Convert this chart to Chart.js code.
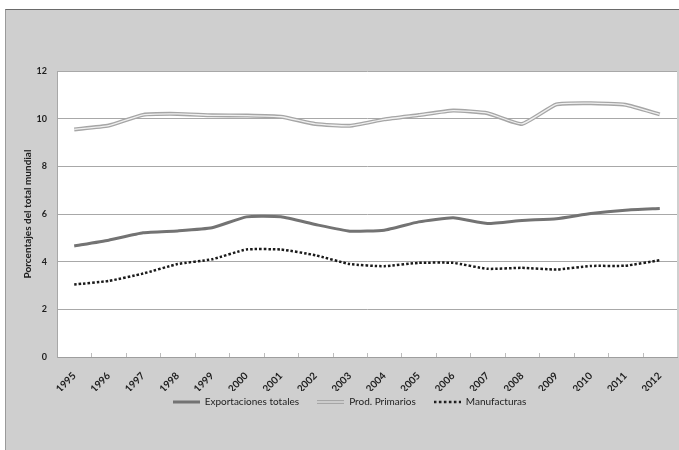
<!DOCTYPE html>
<html>
<head>
<meta charset="utf-8">
<script src="https://cdn.jsdelivr.net/npm/chart.js@4.4.1/dist/chart.umd.min.js"></script>
<style>
  html, body { margin: 0; padding: 0; background: #fff; }
  #frame {
    position: absolute; left: 5px; top: 9px; width: 674px; height: 441px;
    background: #cfcfcf; border-top: 1px solid #6a6a6a; border-left: 1px solid #9a9a9a;
    box-sizing: border-box;
  }
  canvas { display: block; }
</style>
</head>
<body>
<div id="frame"><canvas id="chart" width="673" height="440"></canvas></div>
<script>
const years = ["1995", "1996", "1997", "1998", "1999", "2000", "2001", "2002", "2003",
  "2004", "2005", "2006", "2007", "2008", "2009", "2010", "2011", "2012"];
const exportacionesTotales = [4.66, 4.9, 5.21, 5.29, 5.42, 5.88, 5.88, 5.56, 5.28,
  5.32, 5.67, 5.84, 5.6, 5.73, 5.8, 6.02, 6.16, 6.23];
const prodPrimarios = [9.55, 9.71, 10.16, 10.2, 10.14, 10.13, 10.08, 9.78, 9.7,
  9.97, 10.15, 10.34, 10.23, 9.78, 10.6, 10.65, 10.58, 10.18];
const manufacturas = [3.04, 3.19, 3.5, 3.9, 4.1, 4.51, 4.51, 4.27, 3.9,
  3.81, 3.95, 3.95, 3.7, 3.74, 3.67, 3.82, 3.83, 4.06];
const yMin = 0;
const yMax = 12;
const yStep = 2;
const yTitle = "Porcentajes del total mundial";

const FONT = "Lato, 'Open Sans', sans-serif";
const KEY_W = 27;

// little canvas used as the legend key (keeps dashes / double line)
function legendKey(color, width, dash, inner) {
  const c = document.createElement("canvas");
  c.width = KEY_W;
  c.height = 6;
  const g = c.getContext("2d");
  g.strokeStyle = color;
  g.lineWidth = width;
  g.setLineDash(dash || []);
  g.beginPath();
  g.moveTo(0, 3);
  g.lineTo(KEY_W, 3);
  g.stroke();
  if (inner) {
    g.strokeStyle = inner;
    g.lineWidth = 1.2;
    g.beginPath();
    g.moveTo(0, 3);
    g.lineTo(KEY_W, 3);
    g.stroke();
  }
  return c;
}

// white plot area, small inner ticks between categories, legend nudged up under the labels
const plotArea = {
  id: "plotArea",
  afterLayout(chart) {
    const lg = chart.legend;
    lg.top -= 12;
    lg.bottom -= 12;
    lg.left += 8;
    lg.right += 8;
  },
  beforeDraw(chart) {
    const { ctx, chartArea: a } = chart;
    ctx.save();
    ctx.fillStyle = "#ffffff";
    ctx.fillRect(a.left, a.top, a.right - a.left, a.bottom - a.top);
    ctx.restore();
  },
  afterDatasetsDraw(chart) {
    const { ctx, chartArea: a, scales } = chart;
    const x = scales.x;
    ctx.save();
    ctx.strokeStyle = "#bdbdbd";
    ctx.lineWidth = 1;
    for (let i = 1; i < years.length; i++) {
      const px = Math.round((x.getPixelForValue(i - 1) + x.getPixelForValue(i)) / 2) + 0.5;
      ctx.beginPath();
      ctx.moveTo(px, a.bottom - 4);
      ctx.lineTo(px, a.bottom);
      ctx.stroke();
    }
    ctx.restore();
  },
};

new Chart(document.getElementById("chart"), {
  type: "line",
  data: {
    labels: years,
    datasets: [
      {
        label: "Exportaciones totales",
        data: exportacionesTotales,
        borderColor: "#737373",
        borderWidth: 3,
        tension: 0.15,
        pointStyle: legendKey("#737373", 3),
      },
      {
        label: "inner",
        data: prodPrimarios,
        borderColor: "#f0f0f0",
        borderWidth: 1.3,
        tension: 0.15,
      },
      {
        label: "Prod. Primarios",
        data: prodPrimarios,
        borderColor: "#a6a6a6",
        borderWidth: 4,
        tension: 0.15,
        pointStyle: legendKey("#a6a6a6", 4, null, "#e6e6e6"),
      },
      {
        label: "Manufacturas",
        data: manufacturas,
        borderColor: "#1a1a1a",
        borderWidth: 2.5,
        borderDash: [2.5, 2],
        tension: 0.15,
        pointStyle: legendKey("#1a1a1a", 2.5, [2.5, 2.5]),
      },
    ],
  },
  options: {
    responsive: false,
    animation: false,
    layout: { padding: { left: 0, top: 61, right: 2, bottom: 21 } },
    elements: {
      point: { radius: 0 },
    },
    scales: {
      x: {
        offset: true,
        grid: { display: false },
        border: { display: true, color: "#9e9e9e", width: 1 },
        ticks: {
          color: "#1e1e1e",
          font: { family: FONT, size: 10, weight: "bold" },
          maxRotation: 45,
          minRotation: 45,
          padding: 5,
          autoSkip: false,
        },
        afterFit(scale) {
          scale.height = 34;
        },
      },
      y: {
        min: yMin,
        max: yMax,
        ticks: {
          stepSize: yStep,
          color: "#1e1e1e",
          padding: 10,
          font: { family: FONT, size: 9, weight: "bold" },
        },
        grid: { color: "#a8a8a8", drawTicks: false },
        border: { display: true, color: "#a8a8a8" },
        title: {
          display: true,
          text: yTitle,
          color: "#1e1e1e",
          padding: { top: 16, bottom: 0 },
          font: { family: FONT, size: 10, weight: "bold" },
        },
        afterFit(scale) {
          scale.width = 51;
        },
      },
    },
    plugins: {
      legend: {
        position: "bottom",
        labels: {
          color: "#222",
          font: { family: FONT, size: 10 },
          usePointStyle: true,
          pointStyleWidth: KEY_W,
          boxHeight: 6,
          padding: 18,
          filter: (item) => item.datasetIndex !== 1,
        },
      },
      tooltip: { enabled: false },
    },
  },
  plugins: [plotArea],
});
</script>
</body>
</html>
